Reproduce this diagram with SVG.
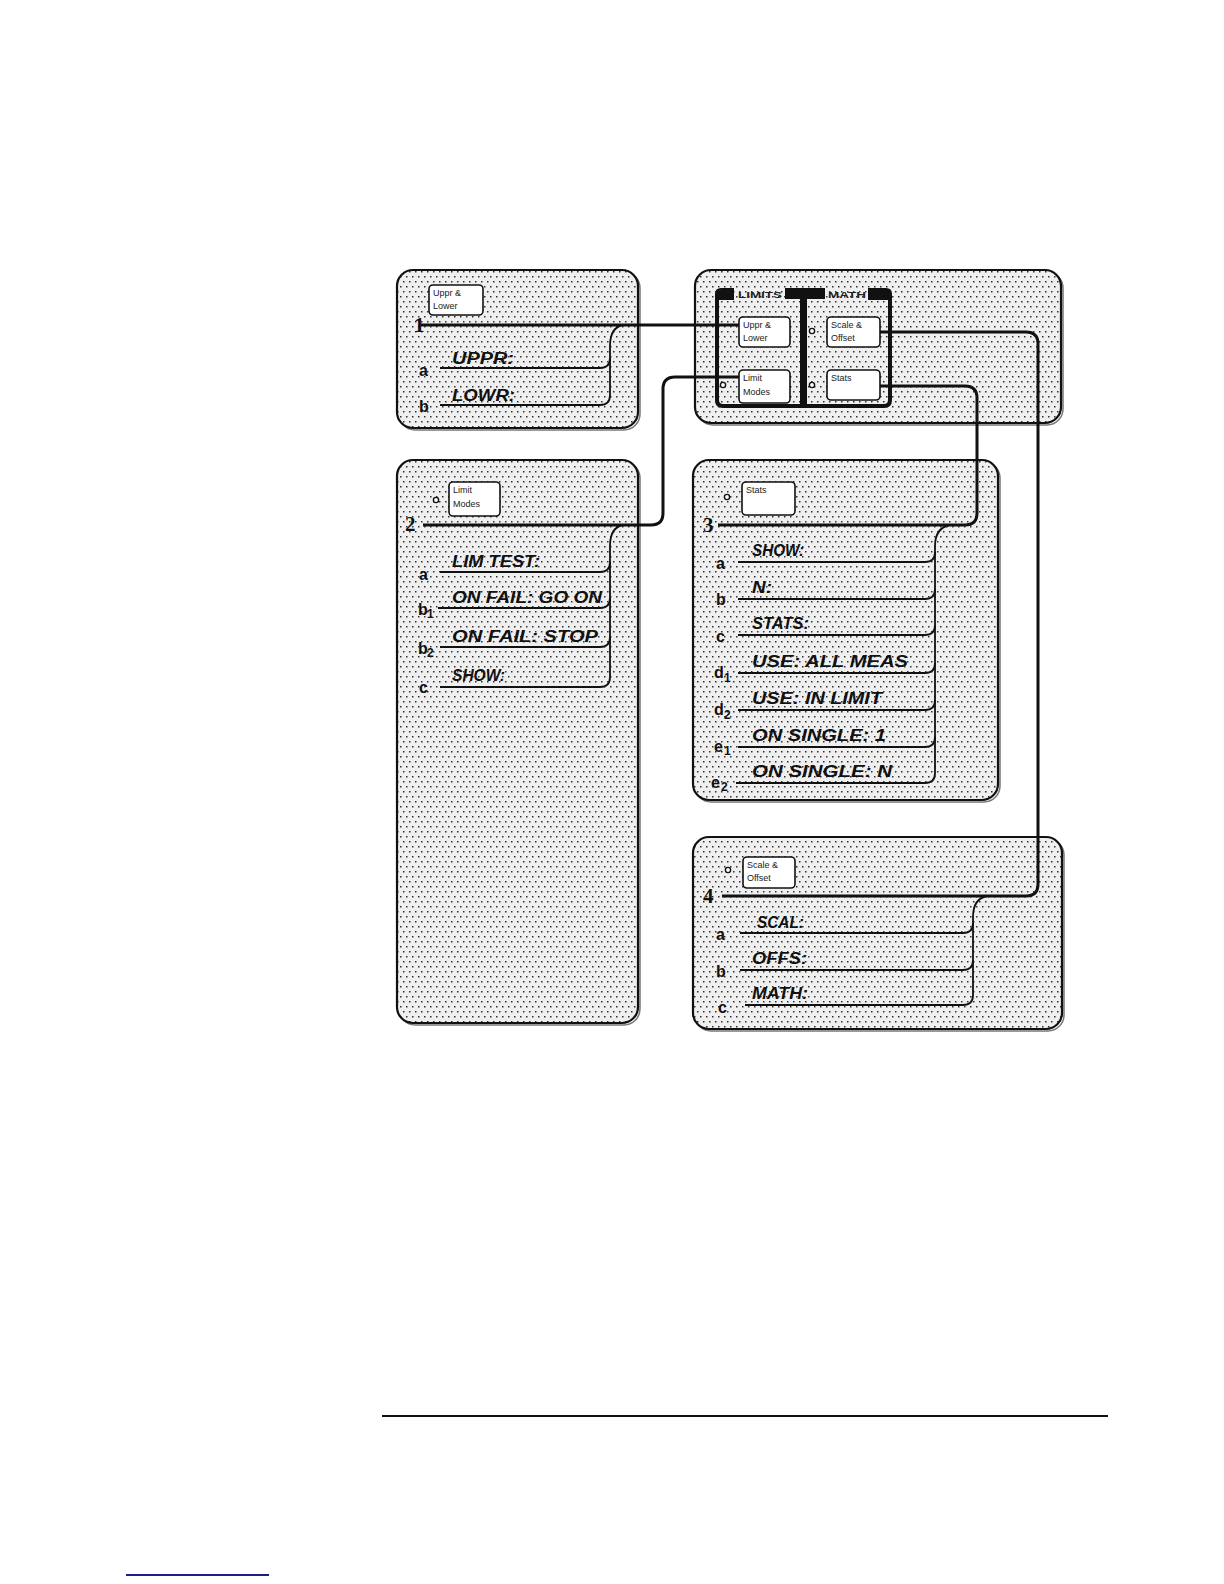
<svg xmlns="http://www.w3.org/2000/svg" width="1224" height="1584" viewBox="0 0 1224 1584">
<defs>
<pattern id="dots" width="6" height="10" patternUnits="userSpaceOnUse">
<rect width="6" height="10" fill="#efefef"/>
<rect x="1" y="1" width="1.5" height="1.5" fill="#2e2e2e"/>
<rect x="4" y="6" width="1.5" height="1.5" fill="#2e2e2e"/>
</pattern>
<style>
.panel{fill:url(#dots);stroke:#111;stroke-width:2.2}
.shadow{fill:none;stroke:#777;stroke-width:1.5}
.btn{fill:#fff;stroke:#111;stroke-width:1.6}
.btxt{font-family:"Liberation Sans",Arial,sans-serif;font-size:9px;fill:#222}
.item{font-family:"Liberation Sans",Arial,sans-serif;font-size:16px;font-weight:bold;font-style:italic;fill:#111}
.lbl{font-family:"Liberation Sans",Arial,sans-serif;font-size:16px;font-weight:bold;fill:#111}
.sub{font-family:"Liberation Sans",Arial,sans-serif;font-size:12px;font-weight:bold;fill:#111}
.num{font-family:"Liberation Serif","Times New Roman",serif;font-size:21px;font-weight:bold;fill:#111}
.tab{font-family:"Liberation Sans",Arial,sans-serif;font-size:9px;font-weight:bold;fill:#222}
.br{fill:none;stroke:#111;stroke-width:1.8}
.conn{fill:none;stroke:#111;stroke-width:3}
.mk{fill:#fff;stroke:#111;stroke-width:1.4}
</style>
</defs>
<rect width="1224" height="1584" fill="#fff"/>

<!-- Panel 1 -->
<g id="panel1">
<rect class="shadow" x="399" y="272" width="241" height="158" rx="16"/>
<rect class="panel" x="397" y="270" width="241" height="158" rx="16"/>
<rect class="btn" x="429" y="285" width="54" height="30" rx="4"/>
<text class="btxt" x="433" y="296">Uppr &amp;</text>
<text class="btxt" x="433" y="309">Lower</text>
<text class="num" x="414" y="332" font-size="19">1</text>
<text class="item" x="452" y="364" textLength="62" lengthAdjust="spacingAndGlyphs">UPPR:</text>
<text class="item" x="452" y="401" textLength="63" lengthAdjust="spacingAndGlyphs">LOWR:</text>
<text class="lbl" x="419" y="376">a</text>
<text class="lbl" x="419" y="412">b</text>
<path class="br" d="M623 325 C613 327 610 335 610 346 L610 395 Q610 405 600 405 L440 405"/>
<path class="br" d="M440 368 L600 368 Q610 368 610 358"/>
</g>

<!-- Top-right softkey panel -->
<g id="panel-menu">
<rect class="shadow" x="697" y="272" width="366" height="153" rx="16"/>
<rect class="panel" x="695" y="270" width="366" height="153" rx="16"/>
<path d="M717 296 L717 400 Q717 406 723 406 L884 406 Q890 406 890 400 L890 296" fill="none" stroke="#111" stroke-width="4"/>
<rect x="800" y="292" width="7" height="116" fill="#111"/>
<path d="M715 300 L715 294 Q715 288 721 288 L734 288 L734 300 Z" fill="#111"/>
<rect x="785" y="288" width="40" height="11" fill="#111"/>
<path d="M868 288 L886 288 Q892 288 892 294 L892 300 L868 300 Z" fill="#111"/>
<text class="tab" x="760" y="298" text-anchor="middle" textLength="44" lengthAdjust="spacingAndGlyphs">LIMITS</text>
<text class="tab" x="847" y="298" text-anchor="middle" textLength="38" lengthAdjust="spacingAndGlyphs">MATH</text>
<rect class="btn" x="739" y="317" width="51" height="30" rx="4"/>
<text class="btxt" x="743" y="328">Uppr &amp;</text>
<text class="btxt" x="743" y="341">Lower</text>
<rect class="btn" x="739" y="370" width="51" height="33" rx="4"/>
<text class="btxt" x="743" y="381">Limit</text>
<text class="btxt" x="743" y="395">Modes</text>
<rect class="btn" x="827" y="317" width="53" height="30" rx="4"/>
<text class="btxt" x="831" y="328">Scale &amp;</text>
<text class="btxt" x="831" y="341">Offset</text>
<rect class="btn" x="827" y="370" width="53" height="30" rx="4"/>
<text class="btxt" x="831" y="381">Stats</text>
<circle class="mk" cx="723" cy="385" r="2.6"/>
<circle class="mk" cx="812" cy="331" r="2.6"/>
<circle class="mk" cx="812" cy="385" r="2.6"/>
</g>

<!-- Panel 2 -->
<g id="panel2">
<rect class="shadow" x="399" y="462" width="241" height="563" rx="16"/>
<rect class="panel" x="397" y="460" width="241" height="563" rx="16"/>
<rect class="btn" x="449" y="482" width="51" height="34" rx="4"/>
<text class="btxt" x="453" y="493">Limit</text>
<text class="btxt" x="453" y="507">Modes</text>
<circle class="mk" cx="436" cy="500" r="2.6"/>
<text class="num" x="405" y="531">2</text>
<text class="item" x="452" y="567" textLength="88" lengthAdjust="spacingAndGlyphs">LIM TEST:</text>
<text class="item" x="452" y="603" textLength="150" lengthAdjust="spacingAndGlyphs">ON FAIL: GO ON</text>
<text class="item" x="452" y="642" textLength="146" lengthAdjust="spacingAndGlyphs">ON FAIL: STOP</text>
<text class="item" x="452" y="681" textLength="53" lengthAdjust="spacingAndGlyphs">SHOW:</text>
<text class="lbl" x="419" y="580">a</text>
<text class="lbl" x="418" y="615">b</text><text class="sub" x="427" y="618">1</text>
<text class="lbl" x="418" y="654">b</text><text class="sub" x="427" y="657">2</text>
<text class="lbl" x="419" y="693">c</text>
<path class="br" d="M623 525 C613 527 610 535 610 546 L610 677 Q610 687 600 687 L440 687"/>
<path class="br" d="M440 572 L600 572 Q610 572 610 562"/>
<path class="br" d="M438 608 L600 608 Q610 608 610 598"/>
<path class="br" d="M440 647 L600 647 Q610 647 610 637"/>
</g>

<!-- Panel 3 -->
<g id="panel3">
<rect class="shadow" x="695" y="462" width="305" height="340" rx="16"/>
<rect class="panel" x="693" y="460" width="305" height="340" rx="16"/>
<rect class="btn" x="742" y="482" width="53" height="33" rx="4"/>
<text class="btxt" x="746" y="493">Stats</text>
<circle class="mk" cx="727" cy="497" r="2.6"/>
<text class="num" x="703" y="532">3</text>
<text class="item" x="752" y="556" textLength="52" lengthAdjust="spacingAndGlyphs">SHOW:</text>
<text class="item" x="752" y="593" textLength="20" lengthAdjust="spacingAndGlyphs">N:</text>
<text class="item" x="752" y="629" textLength="57" lengthAdjust="spacingAndGlyphs">STATS:</text>
<text class="item" x="752" y="667" textLength="156" lengthAdjust="spacingAndGlyphs">USE: ALL MEAS</text>
<text class="item" x="752" y="704" textLength="130" lengthAdjust="spacingAndGlyphs">USE: IN LIMIT</text>
<text class="item" x="752" y="741" textLength="134" lengthAdjust="spacingAndGlyphs">ON SINGLE: 1</text>
<text class="item" x="752" y="777" textLength="140" lengthAdjust="spacingAndGlyphs">ON SINGLE: N</text>
<text class="lbl" x="716" y="569">a</text>
<text class="lbl" x="716" y="605">b</text>
<text class="lbl" x="716" y="642">c</text>
<text class="lbl" x="714" y="678">d</text><text class="sub" x="724" y="682">1</text>
<text class="lbl" x="714" y="715">d</text><text class="sub" x="724" y="719">2</text>
<text class="lbl" x="714" y="752">e</text><text class="sub" x="724" y="755">1</text>
<text class="lbl" x="711" y="788">e</text><text class="sub" x="721" y="791">2</text>
<path class="br" d="M950 525 C940 527 935 535 935 546 L935 773 Q935 783 925 783 L736 783"/>
<path class="br" d="M738 562 L925 562 Q935 562 935 552"/>
<path class="br" d="M738 599 L925 599 Q935 599 935 589"/>
<path class="br" d="M738 635 L925 635 Q935 635 935 625"/>
<path class="br" d="M738 673 L925 673 Q935 673 935 663"/>
<path class="br" d="M738 710 L925 710 Q935 710 935 700"/>
<path class="br" d="M738 747 L925 747 Q935 747 935 737"/>
</g>

<!-- Panel 4 -->
<g id="panel4">
<rect class="shadow" x="695" y="839" width="369" height="192" rx="16"/>
<rect class="panel" x="693" y="837" width="369" height="192" rx="16"/>
<rect class="btn" x="743" y="857" width="52" height="31" rx="4"/>
<text class="btxt" x="747" y="868">Scale &amp;</text>
<text class="btxt" x="747" y="881">Offset</text>
<circle class="mk" cx="728" cy="870" r="2.6"/>
<text class="num" x="703" y="903">4</text>
<text class="item" x="757" y="928" textLength="47" lengthAdjust="spacingAndGlyphs">SCAL:</text>
<text class="item" x="752" y="964" textLength="55" lengthAdjust="spacingAndGlyphs">OFFS:</text>
<text class="item" x="752" y="999" textLength="56" lengthAdjust="spacingAndGlyphs">MATH:</text>
<text class="lbl" x="716" y="940">a</text>
<text class="lbl" x="716" y="977">b</text>
<text class="lbl" x="718" y="1013">c</text>
<path class="br" d="M987 896 C977 898 973 906 973 917 L973 995 Q973 1005 963 1005 L745 1005"/>
<path class="br" d="M740 933 L963 933 Q973 933 973 923"/>
<path class="br" d="M740 970 L963 970 Q973 970 973 960"/>
</g>

<!-- Connectors -->
<g id="connectors">
<path class="conn" d="M420 325 L739 325"/>
<path class="conn" d="M739 377 L675 377 Q663 377 663 389 L663 513 Q663 525 651 525 L423 525"/>
<path class="conn" d="M880 386 L965 386 Q977 386 977 398 L977 513 Q977 525 965 525 L718 525"/>
<path class="conn" d="M880 332 L1026 332 Q1038 332 1038 344 L1038 884 Q1038 896 1026 896 L722 896"/>
</g>

<!-- Page rules -->
<line x1="382" y1="1416" x2="1108" y2="1416" stroke="#111" stroke-width="2"/>
<line x1="126" y1="1575" x2="269" y2="1575" stroke="#1c1c8a" stroke-width="2"/>
</svg>
